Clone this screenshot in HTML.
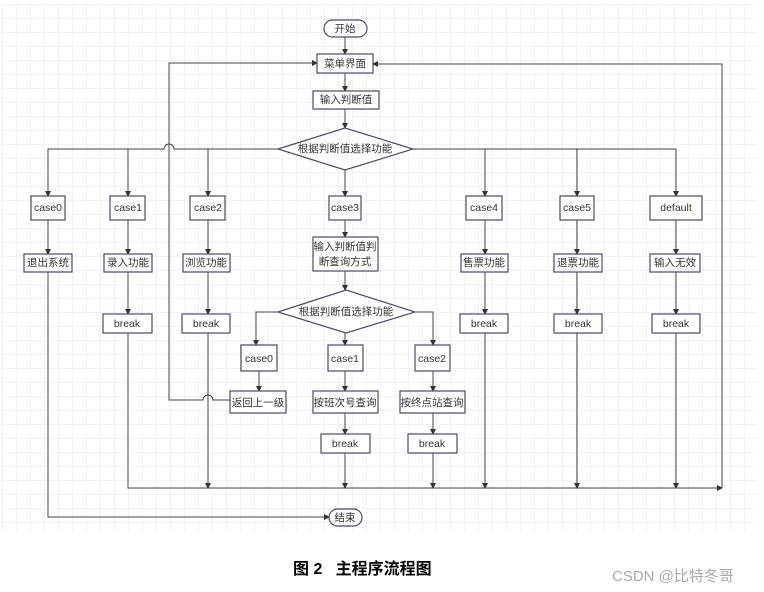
<!DOCTYPE html>
<html><head><meta charset="utf-8"><style>
body{margin:0;background:#fff;}
svg{display:block;}
text{font-family:"Liberation Sans","Noto Sans CJK SC",sans-serif;font-size:10.5px;fill:#333;}
</style></head><body>
<svg width="764" height="592" viewBox="0 0 764 592">
<defs>
<pattern id="g" x="2" y="4" width="14" height="14" patternUnits="userSpaceOnUse">
<path d="M0 0H14M0 0V14" stroke="#e4e4e4" stroke-width="1" fill="none"/>
</pattern>
<marker id="a" markerWidth="6" markerHeight="6" refX="5" refY="3" orient="auto" markerUnits="userSpaceOnUse">
<path d="M0 0L6 3L0 6z" fill="#333"/>
</marker>
</defs>
<rect x="2" y="4" width="756" height="527" fill="url(#g)"/>
<g stroke="#444" stroke-width="1" fill="none">
<path d="M345 37V54" marker-end="url(#a)"/>
<path d="M345 73V91" marker-end="url(#a)"/>
<path d="M345 109V128" marker-end="url(#a)"/>
<path d="M278 149H174A5 5 0 0 0 164 149H48V196" marker-end="url(#a)"/>
<path d="M128 149V196" marker-end="url(#a)"/>
<path d="M208 149V196" marker-end="url(#a)"/>
<path d="M413 149H676V196" marker-end="url(#a)"/>
<path d="M485 149V196" marker-end="url(#a)"/>
<path d="M577 149V196" marker-end="url(#a)"/>
<path d="M345 170V196" marker-end="url(#a)"/>
<path d="M48 220V254" marker-end="url(#a)"/>
<path d="M128 220V254" marker-end="url(#a)"/>
<path d="M208 220V254" marker-end="url(#a)"/>
<path d="M345 220V237" marker-end="url(#a)"/>
<path d="M485 220V254" marker-end="url(#a)"/>
<path d="M577 220V254" marker-end="url(#a)"/>
<path d="M676 220V254" marker-end="url(#a)"/>
<path d="M128 272V314" marker-end="url(#a)"/>
<path d="M208 272V314" marker-end="url(#a)"/>
<path d="M485 272V314" marker-end="url(#a)"/>
<path d="M577 272V314" marker-end="url(#a)"/>
<path d="M676 272V314" marker-end="url(#a)"/>
<path d="M345 271V290" marker-end="url(#a)"/>
<path d="M278 312H256V345" marker-end="url(#a)"/>
<path d="M415 312H433V345" marker-end="url(#a)"/>
<path d="M345 333V345" marker-end="url(#a)"/>
<path d="M259 371V391" marker-end="url(#a)"/>
<path d="M345 371V391" marker-end="url(#a)"/>
<path d="M433 371V391" marker-end="url(#a)"/>
<path d="M345 413V434" marker-end="url(#a)"/>
<path d="M433 413V434" marker-end="url(#a)"/>
<path d="M230 400H213A5 5 0 0 0 203 400H169V63H317" marker-end="url(#a)"/>
<path d="M128 333V488H722" marker-end="url(#a)"/>
<path d="M208 333V488" marker-end="url(#a)"/>
<path d="M345 453V488" marker-end="url(#a)"/>
<path d="M433 453V488" marker-end="url(#a)"/>
<path d="M485 333V488" marker-end="url(#a)"/>
<path d="M577 333V488" marker-end="url(#a)"/>
<path d="M676 333V488" marker-end="url(#a)"/>
<path d="M722 488V64H373" marker-end="url(#a)"/>
<path d="M48 272V517H329" marker-end="url(#a)"/>
</g>
<g stroke="#4a4a6a" stroke-width="1.2" fill="#fff">
<rect x="324" y="20" width="43" height="17" rx="8.5"/>
<rect x="317" y="54" width="56" height="19"/>
<rect x="313" y="91" width="66" height="18"/>
<path d="M278 149L345 128L413 149L345 170z"/>
<rect x="31" y="196" width="34" height="24"/>
<rect x="110" y="196" width="35" height="24"/>
<rect x="190" y="196" width="35" height="24"/>
<rect x="329" y="196" width="32" height="24"/>
<rect x="466" y="196" width="36" height="24"/>
<rect x="560" y="196" width="34" height="24"/>
<rect x="650" y="196" width="52" height="24"/>
<rect x="24" y="254" width="48" height="18"/>
<rect x="104" y="254" width="48" height="18"/>
<rect x="183" y="254" width="47" height="18"/>
<rect x="313" y="237" width="65" height="34"/>
<rect x="461" y="254" width="47" height="18"/>
<rect x="554" y="254" width="48" height="18"/>
<rect x="650" y="254" width="50" height="18"/>
<rect x="103" y="314" width="49" height="19"/>
<rect x="182" y="314" width="48" height="19"/>
<rect x="460" y="314" width="48" height="19"/>
<rect x="554" y="314" width="48" height="19"/>
<rect x="652" y="314" width="48" height="19"/>
<path d="M278 312L346 290L415 312L346 333z"/>
<rect x="241" y="345" width="36" height="26"/>
<rect x="328" y="345" width="35" height="26"/>
<rect x="415" y="345" width="35" height="26"/>
<rect x="230" y="391" width="56" height="22"/>
<rect x="313" y="391" width="65" height="22"/>
<rect x="400" y="391" width="65" height="22"/>
<rect x="321" y="434" width="49" height="19"/>
<rect x="408" y="434" width="49" height="19"/>
<rect x="329" y="509" width="33" height="17" rx="8.5"/>
</g>
<g text-anchor="middle" dominant-baseline="central">
<text x="345" y="29" font-size="10">开始</text>
<text x="345" y="64" font-size="10">菜单界面</text>
<text x="346" y="100" font-size="10">输入判断值</text>
<text x="345" y="149" font-size="9.5">根据判断值选择功能</text>
<text x="48" y="208">case0</text>
<text x="128" y="208">case1</text>
<text x="208" y="208">case2</text>
<text x="345" y="208">case3</text>
<text x="484" y="208">case4</text>
<text x="577" y="208">case5</text>
<text x="676" y="208">default</text>
<text x="48" y="263" font-size="10">退出系统</text>
<text x="128" y="263" font-size="10">录入功能</text>
<text x="206" y="263" font-size="10">浏览功能</text>
<text x="345" y="247" font-size="10">输入判断值判</text>
<text x="345" y="262" font-size="10">断查询方式</text>
<text x="484" y="263" font-size="10">售票功能</text>
<text x="578" y="263" font-size="10">退票功能</text>
<text x="675" y="263" font-size="10">输入无效</text>
<text x="127" y="324">break</text>
<text x="206" y="324">break</text>
<text x="484" y="324">break</text>
<text x="578" y="324">break</text>
<text x="676" y="324">break</text>
<text x="346" y="312" font-size="9.5">根据判断值选择功能</text>
<text x="259" y="359">case0</text>
<text x="345" y="359">case1</text>
<text x="432" y="359">case2</text>
<text x="258" y="403" font-size="10">返回上一级</text>
<text x="345" y="403" font-size="10">按班次号查询</text>
<text x="432" y="403" font-size="10">按终点站查询</text>
<text x="345" y="444">break</text>
<text x="432" y="444">break</text>
<text x="345" y="518" font-size="10">结束</text>
</g>
<text x="293" y="574" style="font-size:16px;fill:#000;font-weight:bold">图 2&#160;&#160;&#160;主程序流程图</text>
<text x="612" y="581" style="font-size:15px;fill:#aaa">CSDN @比特冬哥</text>
</svg>
</body></html>
